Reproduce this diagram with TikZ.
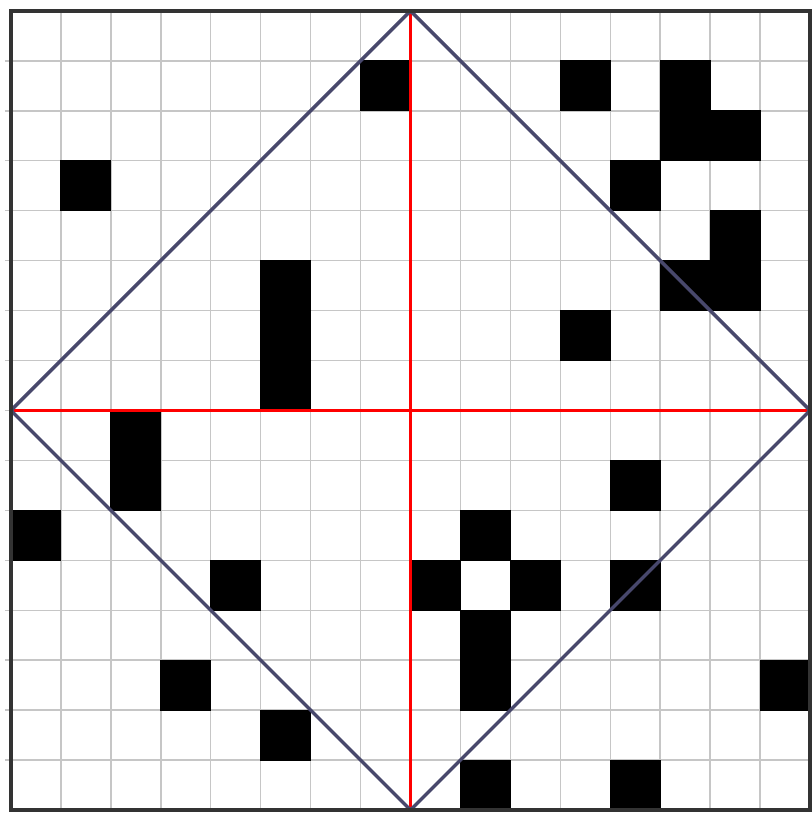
\documentclass[tikz,border=0pt]{standalone}
\usepackage{xcolor}
\usepackage{tikz}
\definecolor{diamondblue}{RGB}{72,72,108}

\begin{document}
\begin{tikzpicture}[
    gridline/.style={draw=gray!45, line width=0.8pt},
    cell/.style={fill=black, draw=black, line width=0.5pt},
    axisline/.style={draw=red, line width=1.5pt},
    diamondline/.style={draw=diamondblue, line width=2pt, line join=round},
    frame/.style={draw=black!80, line width=2pt}
]
    \useasboundingbox (-0.22,-0.06) rectangle (16.02,16.22);
    % grid
    \foreach \k in {1,...,15} {
        \draw [gridline] (\k,0) -- (\k,16);
        \draw [gridline] (-0.12,\k) -- (16,\k);
    }
    % black cells, given as column/row counted from the top left
    \foreach \c/\r in {7/1, 11/1, 13/1, 13/2, 14/2, 1/3, 12/3, 14/4, 13/5, 14/5,
                       5/5, 5/6, 5/7, 11/6, 2/8, 2/9, 12/9, 0/10, 9/10, 4/11,
                       8/11, 10/11, 12/11, 9/12, 9/13, 3/13, 15/13, 5/14, 9/15, 12/15} {
        \filldraw [cell] (\c,16-\r) rectangle ++(1,-1);
    }
    \coordinate (top) at (8,16);
    \coordinate (bottom) at (8,0);
    \coordinate (left) at (0,8);
    \coordinate (right) at (16,8);
    % axes
    \draw [axisline] (top) -- (bottom);
    \draw [axisline] (left) -- (right);
    % diamond
    \draw [diamondline] (top) -- (right) -- (bottom) -- (left) -- cycle;
    % frame
    \draw [frame] (0,0) rectangle (16,16);
\end{tikzpicture}
\end{document}
